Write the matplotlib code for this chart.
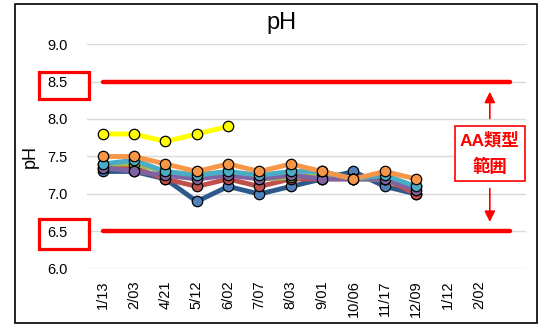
import matplotlib
matplotlib.use('Agg')
import matplotlib.pyplot as plt
import numpy as np
from matplotlib.patches import Rectangle

plt.rcParams['font.family'] = ['Liberation Sans', 'Noto Sans CJK JP', 'DejaVu Sans']

dates = ['1/13', '2/03', '4/21', '5/12', '6/02', '7/07', '8/03', '9/01',
         '10/06', '11/17', '12/09', '1/12', '2/02', '']
nan = np.nan
yellow = [7.8, 7.8, 7.7, 7.8, 7.9] + [nan] * 9
blue = [7.3, 7.3, 7.2, 6.9, 7.1, 7.0, 7.1, 7.2, 7.3, 7.1, 7.0, nan, nan, nan]
red = [7.35, 7.35, 7.2, 7.1, 7.2, 7.1, 7.2, 7.2, 7.2, 7.2, 7.0, nan, nan, nan]
green = [7.4, 7.4, 7.3, 7.25, 7.3, 7.2, 7.22, 7.25, 7.2, 7.2, 7.1, nan, nan, nan]
purple = [7.35, 7.3, 7.25, 7.2, 7.25, 7.2, 7.25, 7.2, 7.2, 7.2, 7.05, nan, nan, nan]
teal = [7.4, 7.45, 7.3, 7.25, 7.3, 7.25, 7.3, 7.3, 7.2, 7.25, 7.1, nan, nan, nan]
orange = [7.5, 7.5, 7.4, 7.3, 7.4, 7.3, 7.4, 7.3, 7.2, 7.3, 7.2, nan, nan, nan]
upper = [8.5] * 14
lower = [6.5] * 14

series = [
    (yellow, '#FFFF00', '#FFFF00'),
    (blue, '#2C5A8C', '#4F81BD'),
    (red, '#C0504D', '#C0504D'),
    (green, '#9BBB59', '#9BBB59'),
    (purple, '#8064A2', '#8064A2'),
    (teal, '#4BACC6', '#4BACC6'),
    (orange, '#F79646', '#F79646'),
]

fig = plt.figure(figsize=(5.41, 3.26), dpi=100)
ax = fig.add_axes([0.161, 0.175, 0.811, 0.69])
x = np.arange(len(dates))

ax.plot(x, upper, color='#FF0000', lw=3.2, solid_capstyle='round', zorder=3)
ax.plot(x, lower, color='#FF0000', lw=3.2, solid_capstyle='round', zorder=3)

for vals, lc, mc in series:
    ax.plot(x, vals, color=lc, lw=3.5, marker='o', ms=7.5, mfc=mc,
            mec='black', mew=0.9, zorder=4)

ax.set_xlim(-0.5, len(dates) - 0.5)
ax.set_ylim(6.0, 9.0)
ax.set_yticks(np.arange(6.0, 9.01, 0.5))
ax.set_yticklabels(['%.1f' % v for v in np.arange(6.0, 9.01, 0.5)], fontsize=10.5)
ax.set_xticks(x)
ax.set_xticklabels(dates, rotation=90, fontsize=10.5)
ax.tick_params(length=0)
ax.tick_params(axis='y', pad=14)
ax.tick_params(axis='x', pad=8)
ax.grid(axis='y', color='#D9D9D9', lw=1)
ax.set_axisbelow(True)
for s in ax.spines.values():
    s.set_visible(False)
ax.set_ylabel('pH', fontsize=13, labelpad=6)

fig.text(0.521, 0.93, 'pH', fontsize=17, ha='center', va='center')

# range annotation
ax.text(12.35, 7.54, 'AA類型\n範囲', color='#FF0000', fontsize=12.5, fontweight='bold',
        ha='center', va='center', linespacing=1.7, zorder=6,
        bbox=dict(boxstyle='square,pad=0.3', fc='white', ec='#FF0000', lw=1.2))
ax.annotate('', xy=(12.35, 8.40), xytext=(12.35, 7.97),
            arrowprops=dict(arrowstyle='-|>', color='#FF0000', lw=1.2, mutation_scale=16), zorder=5)
ax.annotate('', xy=(12.35, 6.59), xytext=(12.35, 7.11),
            arrowprops=dict(arrowstyle='-|>', color='#FF0000', lw=1.2, mutation_scale=16), zorder=5)

# red boxes around the 8.5 and 6.5 tick labels
fig.patches.append(Rectangle((0.072, 0.696), 0.093, 0.083, transform=fig.transFigure,
                             fill=False, ec='#FF0000', lw=2.3))
fig.patches.append(Rectangle((0.072, 0.236), 0.093, 0.092, transform=fig.transFigure,
                             fill=False, ec='#FF0000', lw=2.3))
# chart frame
fig.patches.append(Rectangle((0.028, 0.009), 0.965, 0.979, transform=fig.transFigure,
                             fill=False, ec='black', lw=1.2))

fig.savefig('out.png', dpi=100)
